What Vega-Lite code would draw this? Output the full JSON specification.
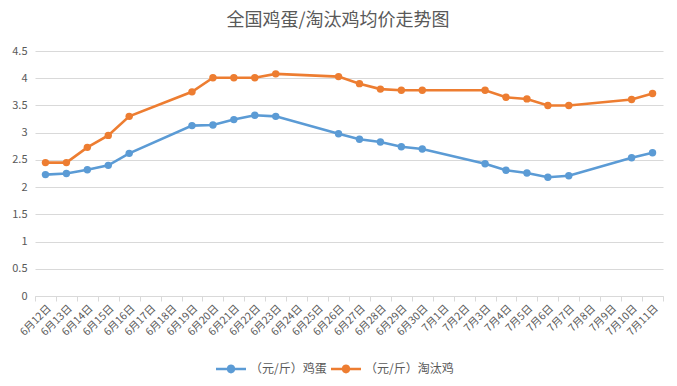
{
  "$schema": "https://vega.github.io/schema/vega-lite/v6.json",
  "width": 628,
  "height": 245,
  "autosize": {"type": "none"},
  "padding": {"left": 35, "top": 51, "right": 14, "bottom": 90},
  "background": "white",
  "config": {
    "font": "Noto Sans CJK SC",
    "view": {"stroke": null}
  },
  "title": {
    "text": "全国鸡蛋/淘汰鸡均价走势图",
    "font": "Noto Sans CJK SC",
    "fontSize": 18,
    "fontWeight": "normal",
    "color": "#595959",
    "anchor": "middle",
    "dx": -11,
    "offset": 15
  },
  "data": {
    "values": [
      {"date": "6月12日", "series": "（元/斤）鸡蛋", "price": 2.23},
      {"date": "6月13日", "series": "（元/斤）鸡蛋", "price": 2.25},
      {"date": "6月14日", "series": "（元/斤）鸡蛋", "price": 2.32},
      {"date": "6月15日", "series": "（元/斤）鸡蛋", "price": 2.40},
      {"date": "6月16日", "series": "（元/斤）鸡蛋", "price": 2.62},
      {"date": "6月19日", "series": "（元/斤）鸡蛋", "price": 3.13},
      {"date": "6月20日", "series": "（元/斤）鸡蛋", "price": 3.14},
      {"date": "6月21日", "series": "（元/斤）鸡蛋", "price": 3.24},
      {"date": "6月22日", "series": "（元/斤）鸡蛋", "price": 3.32},
      {"date": "6月23日", "series": "（元/斤）鸡蛋", "price": 3.30},
      {"date": "6月26日", "series": "（元/斤）鸡蛋", "price": 2.98},
      {"date": "6月27日", "series": "（元/斤）鸡蛋", "price": 2.88},
      {"date": "6月28日", "series": "（元/斤）鸡蛋", "price": 2.83},
      {"date": "6月29日", "series": "（元/斤）鸡蛋", "price": 2.74},
      {"date": "6月30日", "series": "（元/斤）鸡蛋", "price": 2.70},
      {"date": "7月3日", "series": "（元/斤）鸡蛋", "price": 2.43},
      {"date": "7月4日", "series": "（元/斤）鸡蛋", "price": 2.31},
      {"date": "7月5日", "series": "（元/斤）鸡蛋", "price": 2.26},
      {"date": "7月6日", "series": "（元/斤）鸡蛋", "price": 2.18},
      {"date": "7月7日", "series": "（元/斤）鸡蛋", "price": 2.21},
      {"date": "7月10日", "series": "（元/斤）鸡蛋", "price": 2.54},
      {"date": "7月11日", "series": "（元/斤）鸡蛋", "price": 2.63},
      {"date": "6月12日", "series": "（元/斤）淘汰鸡", "price": 2.45},
      {"date": "6月13日", "series": "（元/斤）淘汰鸡", "price": 2.45},
      {"date": "6月14日", "series": "（元/斤）淘汰鸡", "price": 2.73},
      {"date": "6月15日", "series": "（元/斤）淘汰鸡", "price": 2.95},
      {"date": "6月16日", "series": "（元/斤）淘汰鸡", "price": 3.30},
      {"date": "6月19日", "series": "（元/斤）淘汰鸡", "price": 3.75},
      {"date": "6月20日", "series": "（元/斤）淘汰鸡", "price": 4.01},
      {"date": "6月21日", "series": "（元/斤）淘汰鸡", "price": 4.01},
      {"date": "6月22日", "series": "（元/斤）淘汰鸡", "price": 4.01},
      {"date": "6月23日", "series": "（元/斤）淘汰鸡", "price": 4.08},
      {"date": "6月26日", "series": "（元/斤）淘汰鸡", "price": 4.03},
      {"date": "6月27日", "series": "（元/斤）淘汰鸡", "price": 3.90},
      {"date": "6月28日", "series": "（元/斤）淘汰鸡", "price": 3.80},
      {"date": "6月29日", "series": "（元/斤）淘汰鸡", "price": 3.78},
      {"date": "6月30日", "series": "（元/斤）淘汰鸡", "price": 3.78},
      {"date": "7月3日", "series": "（元/斤）淘汰鸡", "price": 3.78},
      {"date": "7月4日", "series": "（元/斤）淘汰鸡", "price": 3.65},
      {"date": "7月5日", "series": "（元/斤）淘汰鸡", "price": 3.62},
      {"date": "7月6日", "series": "（元/斤）淘汰鸡", "price": 3.50},
      {"date": "7月7日", "series": "（元/斤）淘汰鸡", "price": 3.50},
      {"date": "7月10日", "series": "（元/斤）淘汰鸡", "price": 3.61},
      {"date": "7月11日", "series": "（元/斤）淘汰鸡", "price": 3.72}
    ]
  },
  "encoding": {
    "x": {
      "field": "date",
      "type": "ordinal",
      "title": null,
      "scale": {
        "type": "band",
        "paddingInner": 0,
        "paddingOuter": 0,
        "domain": ["6月12日","6月13日","6月14日","6月15日","6月16日","6月17日","6月18日","6月19日","6月20日","6月21日","6月22日","6月23日","6月24日","6月25日","6月26日","6月27日","6月28日","6月29日","6月30日","7月1日","7月2日","7月3日","7月4日","7月5日","7月6日","7月7日","7月8日","7月9日","7月10日","7月11日"]
      },
      "axis": {
        "labelAngle": -45,
        "labelFontSize": 10.5,
        "labelColor": "#595959",
        "labelPadding": 2,
        "tickBand": "extent",
        "tickColor": "#D9D9D9",
        "tickSize": 5,
        "domainColor": "#D9D9D9",
        "grid": false
      }
    },
    "y": {
      "field": "price",
      "type": "quantitative",
      "title": null,
      "scale": {"domain": [0, 4.5], "nice": false},
      "axis": {
        "values": [0, 0.5, 1, 1.5, 2, 2.5, 3, 3.5, 4, 4.5],
        "labelExpr": "datum.value",
        "labelFontSize": 11,
        "labelColor": "#595959",
        "labelPadding": 8,
        "ticks": false,
        "domain": false,
        "gridColor": "#D9D9D9",
        "gridWidth": 1
      }
    },
    "color": {
      "field": "series",
      "type": "nominal",
      "title": null,
      "sort": ["（元/斤）鸡蛋", "（元/斤）淘汰鸡"],
      "scale": {"domain": ["（元/斤）鸡蛋", "（元/斤）淘汰鸡"], "range": ["#5B9BD5", "#ED7D31"]},
      "legend": {
        "orient": "none",
        "legendX": 181,
        "legendY": 303,
        "direction": "horizontal",
        "symbolType": "M-1,-0.09H-0.27A0.28,0.28 0 0,1 0.27,-0.09H1V0.09H0.27A0.28,0.28 0 0,1 -0.27,0.09H-1Z",
        "symbolSize": 900,
        "symbolStrokeWidth": 0,
        "labelFontSize": 12,
        "labelColor": "#595959",
        "columnPadding": 4,
        "labelOffset": 4,
        "encode": {
          "symbols": {"update": {"fill": {"scale": "color", "field": "value"}, "opacity": {"value": 1}}}
        }
      }
    }
  },
  "layer": [
    {"mark": {"type": "line", "strokeWidth": 2.6}},
    {"mark": {"type": "point", "filled": true, "size": 55, "opacity": 1}}
  ]
}
